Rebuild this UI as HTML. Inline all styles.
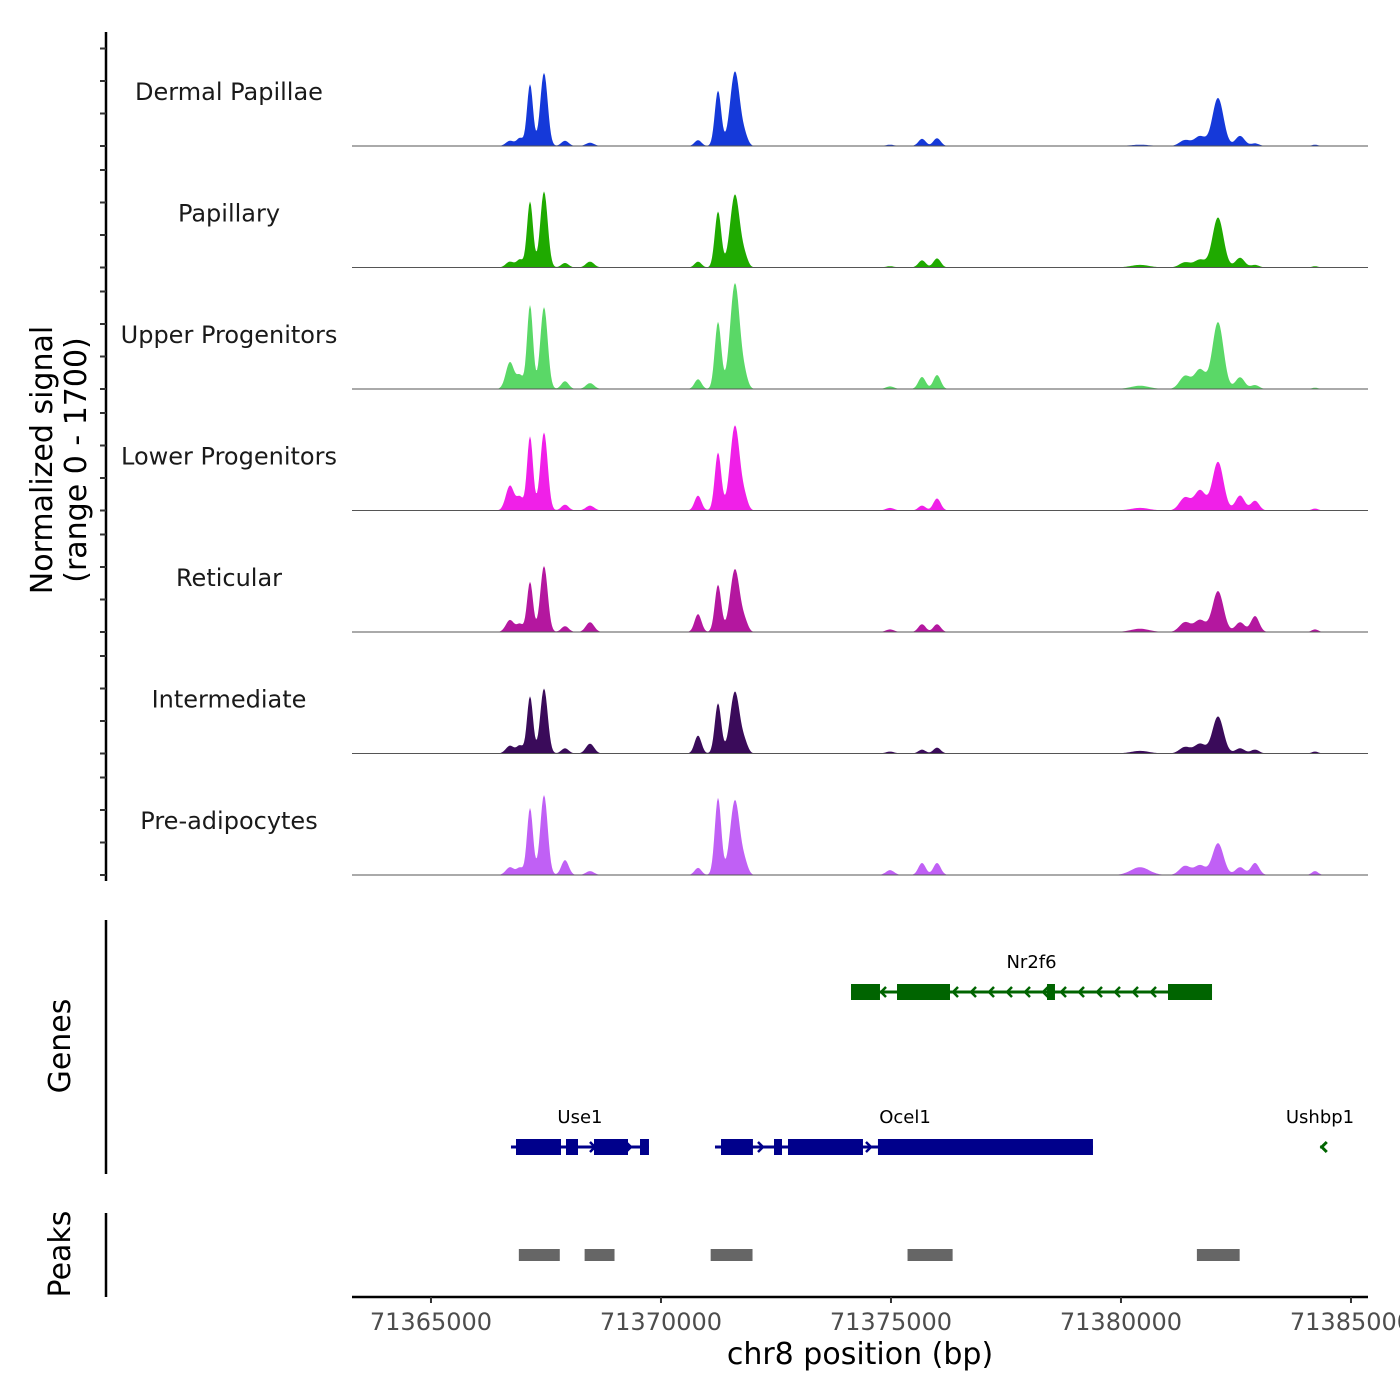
<!DOCTYPE html>
<html><head><meta charset="utf-8"><style>
body{margin:0;background:#fff}
svg{display:block;font-family:"DejaVu Sans","Liberation Sans",sans-serif}
</style></head><body>
<svg id="chart" width="1400" height="1400" viewBox="0 0 1400 1400" xmlns="http://www.w3.org/2000/svg">
<rect width="1400" height="1400" fill="#fff"/>
<g id="tracks"></g>
<g id="yaxis"></g>
<text transform="translate(52,460) rotate(-90)" text-anchor="middle" font-size="30" fill="#000">Normalized signal</text>
<text transform="translate(86,460) rotate(-90)" text-anchor="middle" font-size="30" fill="#000">(range 0 - 1700)</text>
<line x1="106" y1="920" x2="106" y2="1174" stroke="#000" stroke-width="2.5"/>
<text transform="translate(70,1046) rotate(-90)" text-anchor="middle" font-size="30">Genes</text>
<g id="genes"></g>
<line x1="106" y1="1213" x2="106" y2="1297" stroke="#000" stroke-width="2.5"/>
<text transform="translate(70,1254) rotate(-90)" text-anchor="middle" font-size="30">Peaks</text>
<g id="peaks"></g>
<g id="xaxis"></g>
<text x="860" y="1364" text-anchor="middle" font-size="30">chr8 position (bp)</text>
</svg>
<script>
const trackNames=["Dermal Papillae","Papillary","Upper Progenitors","Lower Progenitors","Reticular","Intermediate","Pre-adipocytes"];
const trackColors=["#1539d9","#1faa00","#5ad867","#f020e8","#b4179f","#3a0b5a","#c060f5"];
const peakCenters=[71366718,71366935,71367153,71367457,71367914,71368457,71370805,71371240,71371609,71371827,71374979,71375675,71376001,71380414,71381392,71381718,71382109,71382588,71382914,71384218];
const peakWidths=[90,70,65,80,80,90,75,70,105,70,90,80,80,200,120,120,120,100,90,70];
const dermalValues=[80,120,950,1125,80,50,90,850,1150,120,20,110,120,20,90,150,740,155,40,20];
const papillaryValues=[90,120,1015,1170,70,90,90,860,1125,130,20,110,140,40,80,120,770,150,40,20];
const upperValues=[415,200,1290,1260,120,90,150,1030,1630,150,40,185,215,50,200,300,1030,180,60,20];
const lowerValues=[385,200,1140,1200,90,75,230,890,1310,150,40,75,185,40,200,310,750,230,150,30];
const reticularValues=[185,120,770,1015,90,150,275,725,970,130,40,120,120,50,150,185,630,150,245,40];
const intermediateValues=[120,120,880,1000,80,150,275,770,955,130,30,60,90,40,100,150,570,80,60,30];
const preadipoValues=[120,110,1030,1230,230,60,110,1185,1155,150,75,185,185,120,140,150,490,120,185,60];
const trackValues=[dermalValues,papillaryValues,upperValues,lowerValues,reticularValues,intermediateValues,preadipoValues];
const xTicks=[71365000,71370000,71375000,71380000,71385000];
const geneNames=["Nr2f6","Use1","Ocel1","Ushbp1"];
const geneStarts=[71374131,71366739,71371174,71384330];
const geneEnds=[71381979,71369739,71379391,71384400];
const geneStrands=[-1,1,1,-1];
const geneRows=[0,1,1,1];
const geneExons=[
 [[71374131,71374761],[71375131,71376283],[71378392,71378565],[71381022,71381979]],
 [[71366848,71367826],[71367935,71368196],[71368544,71369283],[71369544,71369739]],
 [[71371305,71371999],[71372457,71372631],[71372761,71374391],[71374717,71379391]],
 []];
const peakStarts=[71366910,71368340,71371080,71375360,71381650];
const peakEnds=[71367800,71368990,71371990,71376340,71382580];

const NS="http://www.w3.org/2000/svg";
const X0=71363283,PX=0.046,XL=352,XR=1368;
const xs=bp=>XL+(bp-X0)*PX;
const baseY=i=>146+i*121.5;
const ySc=v=>v*110.5/1700;
function mk(tag,attrs,parent){const e=document.createElementNS(NS,tag);for(const k in attrs)e.setAttribute(k,attrs[k]);parent.appendChild(e);return e;}

const tracks=document.getElementById('tracks');
trackNames.forEach((name,i)=>{
 const g=mk('g',{},tracks);
 
 
 const vals=trackValues[i];const b=baseY(i);
 let pts=[XL+','+b];
 for(let x=XL;x<=XR;x+=1){
  const bp=X0+(x-XL)/PX;let v=0;
  for(let k=0;k<peakCenters.length;k++){const d=(bp-peakCenters[k])/peakWidths[k];if(Math.abs(d)<5)v+=vals[k]*Math.exp(-0.5*d*d);}
  pts.push(x+','+(b-ySc(v)).toFixed(1));
 }
 pts.push(XR+','+b);
 const p=mk('polygon',{points:pts.join(' '),fill:trackColors[i]},g);
 
 
 const l=mk('line',{x1:XL,x2:XR,y1:b,y2:b,stroke:'#555',"stroke-width":1},g);
 
 
 const t=mk('text',{x:229,y:b-46,"text-anchor":"middle","font-size":24,fill:"#1a1a1a"},g);
 t.textContent=name;
 
 
});

const ya=document.getElementById('yaxis');
mk('line',{x1:106,x2:106,y1:32,y2:881,stroke:'#000',"stroke-width":2.5},ya);
trackNames.forEach((n,i)=>{for(let v=0;v<=1500;v+=500){const y=baseY(i)-ySc(v);const t=mk('line',{x1:100,x2:106,y1:y,y2:y,stroke:'#333',"stroke-width":2},ya);
 
 }});

const gg=document.getElementById('genes');
geneNames.forEach((n,i)=>{
 const g=mk('g',{},gg);
 
 
 const col=geneStrands[i]<0?'#006400':'#00008b';
 const y=geneRows[i]?1147:992;
 const x1=xs(geneStarts[i]),x2=xs(geneEnds[i]);
 mk('line',{x1:x1,x2:x2,y1:y,y2:y,stroke:col,"stroke-width":3},g);
 if(x2-x1<10){const d=geneStrands[i]*5;const x=(x1+x2)/2;
  mk('polyline',{points:(x-d)+','+(y-5)+' '+x+','+y+' '+(x-d)+','+(y+5),fill:'none',stroke:col,"stroke-width":3},g);}
 for(let x=x1+12;x<x2-4;x+=18){const d=geneStrands[i]*5;
  mk('polyline',{points:(x-d)+','+(y-5)+' '+x+','+y+' '+(x-d)+','+(y+5),fill:'none',stroke:col,"stroke-width":2.5},g);}
 geneExons[i].forEach(e=>{const r=mk('rect',{x:xs(e[0]),y:y-8,width:xs(e[1])-xs(e[0]),height:16,fill:col},g);
  
  });
 const t=mk('text',{x:(x1+x2)/2,y:y-24,"text-anchor":"middle","font-size":18,fill:"#000"},g);
 if(i===3)t.setAttribute('x',1320);
 if(i===2)t.setAttribute('x',905);
 t.textContent=n;
 
 
});

const pg=document.getElementById('peaks');
peakStarts.forEach((s,i)=>{const r=mk('rect',{x:xs(s),y:1249,width:xs(peakEnds[i])-xs(s),height:12,fill:'#666'},pg);
 
 });

const xa=document.getElementById('xaxis');
mk('line',{x1:XL,x2:XR,y1:1297,y2:1297,stroke:'#000',"stroke-width":2.5},xa);
xTicks.forEach(v=>{const x=xs(v);mk('line',{x1:x,x2:x,y1:1297,y2:1303,stroke:'#333',"stroke-width":2},xa);
 const t=mk('text',{x:x,y:1330,"text-anchor":"middle","font-size":24,fill:"#4d4d4d"},xa);t.textContent=v;
 
 });
</script>
</body></html>
